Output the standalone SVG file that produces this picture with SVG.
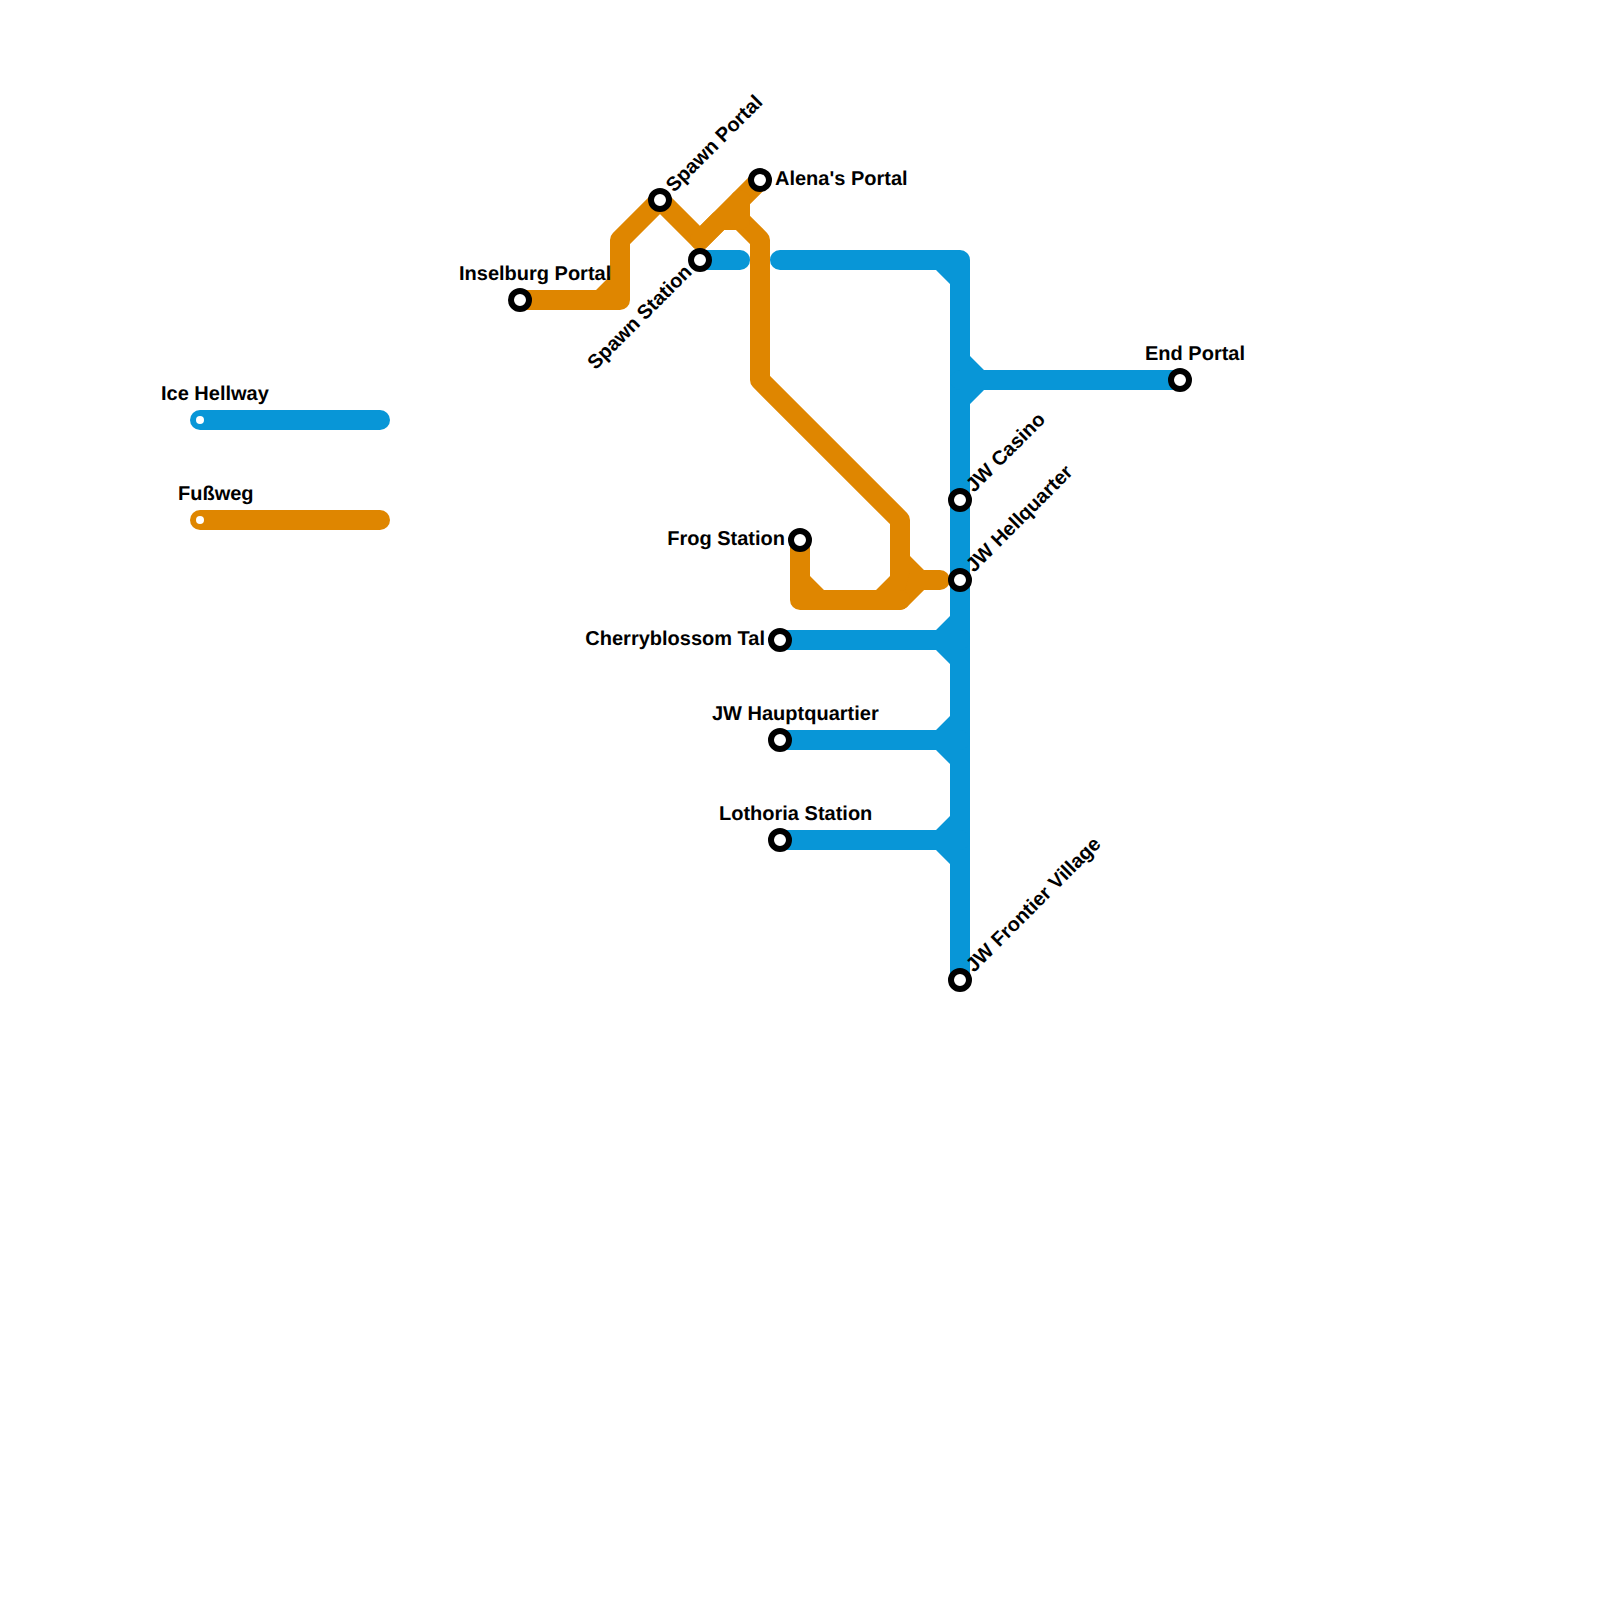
<svg xmlns="http://www.w3.org/2000/svg" width="1600" height="1600" viewBox="0 0 1600 1600">
<style>
.l{fill:none;stroke-width:20;stroke-linejoin:round;stroke-linecap:round}
.b{stroke:#0896d7}.o{stroke:#df8600}
.fb{fill:#0896d7}.fo{fill:#df8600}
.s{fill:#fff;stroke:#000;stroke-width:6}
text{font-family:"Liberation Sans",Arial,sans-serif;font-size:20px;font-weight:700;fill:#000;text-rendering:geometricPrecision}
.e{text-anchor:end}
</style>
<rect width="1600" height="1600" fill="#fff"/>
<g id="connectors">
<g id="line-fussweg">
<path class="l o" d="M520 300H620V240L660 200L700 240L760 180"/>
<path class="l o" d="M700 240L720 220H740L760 240V380L900 520V600L920 580H940"/>
<path class="l o" d="M740 220V200"/>
<path class="l o" d="M800 540V600H900"/>
<path class="fo" d="M596 290L610 276V290ZM810 576L824 590H810ZM890 576V590H876ZM910 556L924 570V590H905L910 570ZM693 247L700 254L707 247Z"/>
</g>
<g id="line-ice-hellway">
<path class="l b" d="M700 260H740"/>
<path class="l b" d="M780 260H960V980"/>
<path class="l b" d="M960 380H1180"/>
<path class="l b" d="M780 640H960"/>
<path class="l b" d="M780 740H960"/>
<path class="l b" d="M780 840H960"/>
<path class="fb" d="M936 270L950 284V270ZM970 356L984 370V390L970 404ZM950 616L936 630V650L950 664ZM950 716L936 730V750L950 764ZM950 816L936 830V850L950 864Z"/>
</g>
</g>
<g id="legend-ice-hellway">
<path class="l b" d="M200 420H380"/><circle cx="200" cy="420" r="4" fill="#fff"/>
<text x="161" y="400">Ice Hellway</text>
</g>
<g id="legend-fussweg">
<path class="l o" d="M200 520H380"/><circle cx="200" cy="520" r="4" fill="#fff"/>
<text x="178" y="500">Fußweg</text>
</g>
<g id="inselburg-portal"><circle class="s" cx="520" cy="300" r="9"/><text x="459" y="280">Inselburg Portal</text></g>
<g id="spawn-portal"><circle class="s" cx="660" cy="200" r="9"/><text transform="translate(674 193) rotate(-45)">Spawn Portal</text></g>
<g id="alenas-portal"><circle class="s" cx="760" cy="180" r="9"/><text x="775" y="185">Alena's Portal</text></g>
<g id="spawn-station"><circle class="s" cx="700" cy="260" r="9"/><text class="e" transform="translate(693 273) rotate(-45)">Spawn Station</text></g>
<g id="end-portal"><circle class="s" cx="1180" cy="380" r="9"/><text x="1145" y="360">End Portal</text></g>
<g id="jw-casino"><circle class="s" cx="960" cy="500" r="9"/><text transform="translate(974 493) rotate(-45)">JW Casino</text></g>
<g id="jw-hellquarter"><circle class="s" cx="960" cy="580" r="9"/><text transform="translate(974 573) rotate(-45)">JW Hellquarter</text></g>
<g id="frog-station"><circle class="s" cx="800" cy="540" r="9"/><text class="e" x="785" y="545">Frog Station</text></g>
<g id="cherryblossom-tal"><circle class="s" cx="780" cy="640" r="9"/><text class="e" x="765" y="645">Cherryblossom Tal</text></g>
<g id="jw-hauptquartier"><circle class="s" cx="780" cy="740" r="9"/><text x="712" y="720">JW Hauptquartier</text></g>
<g id="lothoria-station"><circle class="s" cx="780" cy="840" r="9"/><text x="719" y="820">Lothoria Station</text></g>
<g id="jw-frontier-village"><circle class="s" cx="960" cy="980" r="9"/><text transform="translate(974 973) rotate(-45)">JW Frontier Village</text></g>
</svg>
